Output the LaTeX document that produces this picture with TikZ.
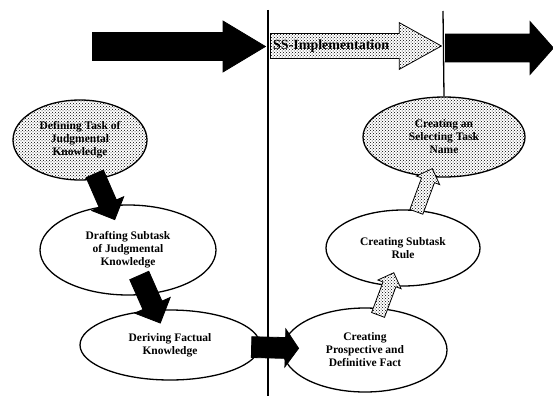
\documentclass[tikz,border=0pt]{standalone}
\usepackage{fontspec}
\setmainfont{Liberation Serif}
\usetikzlibrary{shapes.geometric,shapes.arrows,patterns}
\tikzset{
  oval/.style={ellipse, draw=black, line width=1.3pt, fill=white, inner sep=0pt, align=center,
    font=\fontsize{11.5}{13}\selectfont\bfseries},
  speckle/.style={preaction={fill=white}, pattern=crosshatch dots, pattern color=black},
  blockarrow/.style={single arrow, draw=black, line width=0.8pt, inner xsep=0pt, minimum width=0pt},
  vline/.style={draw=black, line width=1.3pt},
}
\begin{document}
\begin{tikzpicture}[x=1pt,y=-1pt]
\useasboundingbox[fill=white] (0,0) rectangle (553,396);
% vertical divider lines
\coordinate (l1t) at (268,10);
\coordinate (l1b) at (268,396);
\draw[vline] (l1t) -- (l1b);
% top arrows
\node[blockarrow, fill=black, inner ysep=13.5pt, single arrow head extend=11.5pt,
      single arrow tip angle=62, minimum height=173pt, anchor=tail] (ta1) at (92,46.5) {};
\node[blockarrow, speckle, inner ysep=12pt, single arrow head extend=11pt,
      single arrow tip angle=58, minimum height=171pt, anchor=tail] (ta2) at (270,46) {};
\node[font=\fontsize{14}{14}\selectfont\bfseries, inner sep=0pt, anchor=west]
      (tt2) at (273,46) {SS-Implementation};
\node[blockarrow, fill=black, inner ysep=13.5pt, single arrow head extend=12.5pt,
      single arrow tip angle=97, minimum height=108pt, anchor=tail] (ta3) at (445,48) {};
% ellipses
\node[oval, speckle, minimum width=134pt, minimum height=80pt] (e1) at (80,140)
  {Defining Task of\\Judgmental\\Knowledge};
\node[oval, minimum width=176pt, minimum height=90pt] (e2) at (128,250)
  {Drafting Subtask\\of Judgmental\\Knowledge};
\node[oval, minimum width=180pt, minimum height=70pt] (e3) at (170,345)
  {Deriving Factual\\Knowledge};
\node[oval, minimum width=164pt, minimum height=84pt] (e4) at (365,350)
  {Creating\\Prospective and\\Definitive Fact};
\node[oval, minimum width=154pt, minimum height=76pt] (e5) at (403,248)
  {Creating Subtask\\Rule};
\node[oval, speckle, minimum width=162pt, minimum height=80pt] (e6) at (444,137)
  {Creating an\\Selecting Task\\Name};
\coordinate (l2t) at (443,11);
\draw[vline] (l2t) -- (e6.north);
% block arrows between ellipses
\path (e1) -- (e2) node[midway, sloped, blockarrow, fill=black, inner ysep=9pt,
   single arrow head extend=8pt, single arrow tip angle=90, minimum height=50pt] (a12) {};
\path (e2) -- (e3) node[pos=0, sloped, blockarrow, fill=black, inner ysep=10pt,
   single arrow head extend=9pt, single arrow tip angle=90, minimum height=52pt] (a23) {};
\path (e3) -- (e4) node[midway, sloped, blockarrow, fill=black, inner ysep=10pt,
   single arrow head extend=8.5pt, single arrow tip angle=110, minimum height=47pt] (a34) {};
\path (e4) -- (e5) node[midway, sloped, blockarrow, speckle, inner ysep=6.5pt,
   single arrow head extend=5.5pt, single arrow tip angle=90, minimum height=45pt] (a45) {};
\path (e5) -- (e6) node[midway, sloped, blockarrow, speckle, inner ysep=6.5pt,
   single arrow head extend=5.5pt, single arrow tip angle=90, minimum height=46pt] (a56) {};
\end{tikzpicture}
\end{document}
